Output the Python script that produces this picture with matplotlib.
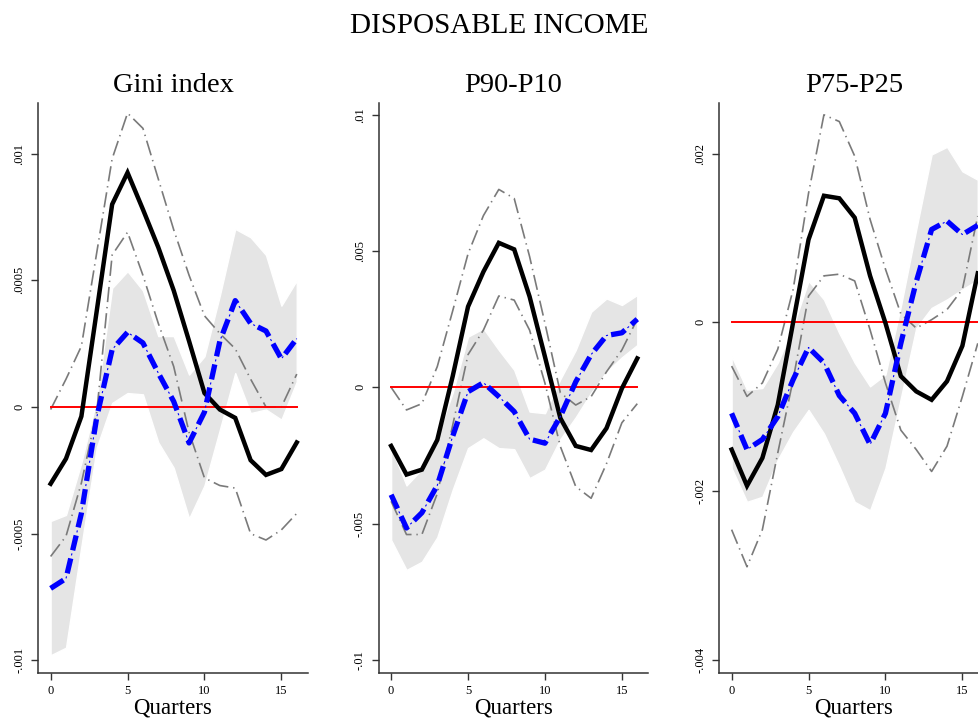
import matplotlib
matplotlib.use("Agg")
import matplotlib.pyplot as plt
import numpy as np

plt.rcParams["font.family"] = ["Liberation Serif", "DejaVu Serif"]
plt.rcParams["lines.scale_dashes"] = False

quarters = np.arange(17)

panel_titles = ["Gini index", "P90-P10", "P75-P25"]

# point estimate (solid) and its bounds (gray dash-dot)
gini_main = [-0.000303, -0.000204, -0.000037, 0.00038, 0.0008, 0.000925, 0.00078, 0.00063, 0.00046,
             0.00026, 0.000055, -0.00001, -0.000043, -0.00021, -0.000268, -0.000245, -0.00014]
gini_main_hi = [-0.00001, 0.00011, 0.00024, 0.00061, 0.00098, 0.00116, 0.0011, 0.0009, 0.0007,
                0.00052, 0.00036, 0.00029, 0.00023, 0.00011, 0.0, 0.0, 0.00013]
gini_main_lo = [-0.00059, -0.00051, -0.0003, -0.00002, 0.0006, 0.00069, 0.00052, 0.00033, 0.00016,
                -0.0001, -0.00028, -0.00031, -0.00032, -0.0005, -0.000525, -0.000485, -0.00042]
# alternative estimate (blue) and its shaded band
gini_alt = [-0.000716, -0.000677, -0.00042, -0.00004, 0.000227, 0.000295, 0.000253, 0.000134, 0.000022,
            -0.000142, -0.00002, 0.00026, 0.00042, 0.00033, 0.0003, 0.00019, 0.00027]
gini_alt_hi = [-0.00045, -0.000426, -0.00022, 0.00003, 0.00047, 0.000536, 0.00046, 0.00028, 0.00028,
               0.000128, 0.0002, 0.00044, 0.000703, 0.00067, 0.0006, 0.0004, 0.0005]
gini_alt_lo = [-0.00098, -0.00095, -0.00055, -0.00016, 0.000016, 0.000055, 0.00005, -0.00014, -0.00024,
               -0.00044, -0.00031, -0.00009, 0.000134, -0.000024, -0.00001, -0.00005, 0.0001]

p9010_main = [-0.00215, -0.0032, -0.00302, -0.00193, 0.0004, 0.00296, 0.00424, 0.0053, 0.00506,
              0.00333, 0.00112, -0.00113, -0.00215, -0.0023, -0.0015, -0.00004, 0.00106]
p9010_main_hi = [0.0, -0.00083, -0.0006, 0.00076, 0.0028, 0.0049, 0.0063, 0.00726, 0.00693,
                 0.0048, 0.00235, -0.0002, -0.00065, -0.00034, 0.00057, 0.00137, 0.0025]
p9010_main_lo = [-0.00418, -0.0054, -0.0054, -0.0039, -0.0014, 0.0012, 0.0021, 0.00335, 0.0032,
                 0.0021, 0.00015, -0.00217, -0.00364, -0.00407, -0.0028, -0.0013, -0.0006]
p9010_alt = [-0.00394, -0.00516, -0.0046, -0.0036, -0.0018, -0.00016, 0.00017, -0.00034, -0.00089,
             -0.0019, -0.00205, -0.00107, 0.0002, 0.0012, 0.0019, 0.002, 0.0025]
p9010_alt_hi = [-0.0022, -0.0036, -0.003, -0.0018, -0.0002, 0.00186, 0.00216, 0.00137, 0.00064,
                -0.00089, -0.00095, 0.0003, 0.00137, 0.00277, 0.00326, 0.00302, 0.00339]
p9010_alt_lo = [-0.0056, -0.0067, -0.0064, -0.0055, -0.00376, -0.00223, -0.00187, -0.00223, -0.00227,
                -0.00333, -0.00302, -0.0019, -0.0011, -0.0002, 0.00057, 0.0011, 0.00155]

p7525_main = [-0.00151, -0.00194, -0.00161, -0.00098, 0.0, 0.00098, 0.0015, 0.00147, 0.00124,
              0.00055, -0.00001, -0.00064, -0.00082, -0.00092, -0.0007, -0.00028, 0.00058]
p7525_main_hi = [-0.00052, -0.00088, -0.00072, -0.00032, 0.00039, 0.00153, 0.00246, 0.00238, 0.00197,
                 0.00122, 0.00063, 0.0001, -0.00007, 0.00003, 0.00015, 0.00039, 0.00126]
p7525_main_lo = [-0.00246, -0.0029, -0.00246, -0.00155, -0.00068, 0.00031, 0.00055, 0.00057, 0.00049,
                 -0.00009, -0.00072, -0.00128, -0.00151, -0.00177, -0.00147, -0.00088, -0.00025]
p7525_alt = [-0.00108, -0.00151, -0.00139, -0.00112, -0.00068, -0.0003, -0.00048, -0.00087, -0.00108,
             -0.00145, -0.00108, -0.00025, 0.00048, 0.0011, 0.0012, 0.00104, 0.00115]
p7525_alt_hi = [-0.0004, -0.0008, -0.00078, -0.00048, -0.00005, 0.00049, 0.00027, -0.00013, -0.00048,
                -0.00076, -0.00062, 0.00019, 0.0011, 0.00199, 0.00208, 0.00179, 0.00169]
p7525_alt_lo = [-0.00173, -0.00213, -0.00207, -0.00163, -0.0013, -0.00104, -0.00132, -0.00171, -0.00213,
                -0.00223, -0.00173, -0.0009, -0.00007, 0.00017, 0.00027, 0.00039, 0.0005]

y_ticks = [
    [-0.001, -0.0005, 0, 0.0005, 0.001],
    [-0.01, -0.005, 0, 0.005, 0.01],
    [-0.004, -0.002, 0, 0.002],
]
y_tick_labels = [
    ["-.001", "-.0005", "0", ".0005", ".001"],
    ["-.01", "-.005", "0", ".005", ".01"],
    ["-.004", "-.002", "0", ".002"],
]
y_limits = [(-0.00105, 0.0012), (-0.01048, 0.01043), (-0.00416, 0.0026)]
x_ticks = [0, 5, 10, 15]

panels = [
    (gini_main, gini_main_hi, gini_main_lo, gini_alt, gini_alt_hi, gini_alt_lo),
    (p9010_main, p9010_main_hi, p9010_main_lo, p9010_alt, p9010_alt_hi, p9010_alt_lo),
    (p7525_main, p7525_main_hi, p7525_main_lo, p7525_alt, p7525_alt_hi, p7525_alt_lo),
]

W, H = 979, 719
fig = plt.figure(figsize=(W / 100, H / 100), dpi=100)
fig.suptitle("DISPOSABLE INCOME", x=499 / W, y=1 - 26 / H, va="center", fontsize=21)

axis_color = "#333333"
band_gray = "#e5e5e5"
line_gray = "#7a7a7a"

for i, (title, data) in enumerate(zip(panel_titles, panels)):
    main, main_hi, main_lo, alt, alt_hi, alt_lo = data
    left = 38 + i * 340.5
    ax = fig.add_axes([left / W, 46 / H, 270 / W, 570 / H])

    ax.fill_between(quarters, alt_lo, alt_hi, facecolor=band_gray, edgecolor="white", linewidth=1.0, zorder=1)
    ax.plot(quarters, main_hi, color=line_gray, lw=1.2, ls=(0, (11, 3.5, 1, 3.5)), zorder=2)
    ax.plot(quarters, main_lo, color=line_gray, lw=1.2, ls=(0, (11, 3.5, 1, 3.5)), zorder=2)
    ax.plot([quarters[0], quarters[-1]], [0, 0], color="red", lw=1.4, zorder=3)
    ax.plot(quarters, main, color="black", lw=3.2, solid_joinstyle="miter", zorder=4)
    # thick blue dashes with a thin blue dot centred in each gap
    ax.plot(quarters, alt, color="blue", lw=3.8, ls=(0, (11, 6)), dash_capstyle="butt", zorder=5)
    ax.plot(quarters, alt, color="blue", lw=0.8, ls=(3.75, (1.5, 15.5)), dash_capstyle="butt", zorder=5)

    ax.set_xlim(-0.82, 16.73)
    ax.set_ylim(*y_limits[i])
    ax.set_xticks(x_ticks)
    ax.set_yticks(y_ticks[i])
    ax.set_yticklabels(y_tick_labels[i], rotation=90, va="center")
    ax.set_xlabel("Quarters", fontsize=16.5, labelpad=0)
    ax.set_title(title, fontsize=20.5, pad=8)

    for side in ("top", "right"):
        ax.spines[side].set_visible(False)
    for side in ("left", "bottom"):
        ax.spines[side].set_color(axis_color)
        ax.spines[side].set_linewidth(1.1)
    ax.tick_params(axis="both", direction="out", length=5, width=1.0, color=axis_color,
                   labelsize=9, pad=4)

fig.savefig("out.png", dpi=100)
